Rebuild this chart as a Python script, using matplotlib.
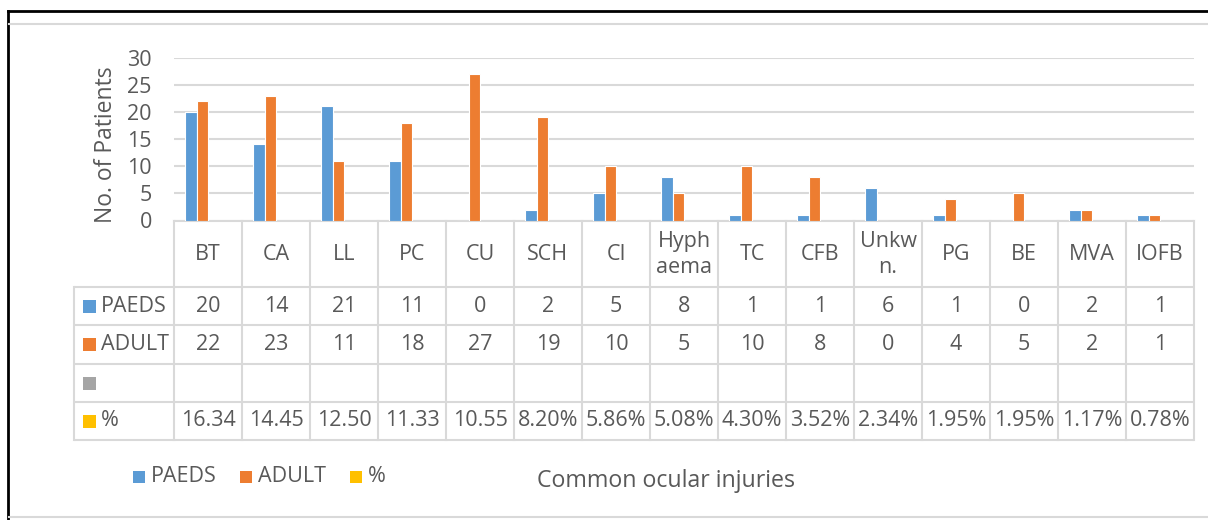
import matplotlib
matplotlib.use("Agg")
import matplotlib.pyplot as plt
from matplotlib.transforms import blended_transform_factory
from matplotlib.patches import Rectangle
import numpy as np

categories = ["BT", "CA", "LL", "PC", "CU", "SCH", "CI", "Hyph\naema", "TC", "CFB",
              "Unkw\nn.", "PG", "BE", "MVA", "IOFB"]
paeds = [20, 14, 21, 11, 0, 2, 5, 8, 1, 1, 6, 1, 0, 2, 1]
adult = [22, 23, 11, 18, 27, 19, 10, 5, 10, 8, 0, 4, 5, 2, 1]
pct_labels = ["16.34", "14.45", "12.50", "11.33", "10.55", "8.20%", "5.86%", "5.08%",
              "4.30%", "3.52%", "2.34%", "1.95%", "1.95%", "1.17%", "0.78%"]
yticks = [0, 5, 10, 15, 20, 25, 30]

BLUE, ORANGE, GRAY, YELLOW = "#5B9BD5", "#ED7D31", "#A5A5A5", "#FFC000"
TXT = "#595959"
GRID = "#D9D9D9"
FONT = "Open Sans"
plt.rcParams["font.family"] = [FONT, "DejaVu Sans"]

W, H = 1208, 520
fig = plt.figure(figsize=(W / 100, H / 100), dpi=100)
ov = fig.add_axes([0, 0, 1, 1])
ov.set_xlim(0, W)
ov.set_ylim(H, 0)
ov.axis("off")

AX_L, AX_R, AX_T, AX_B = 174, 1194, 57.5, 220.5
ax = fig.add_axes([AX_L / W, (H - AX_B) / H, (AX_R - AX_L) / W, (AX_B - AX_T) / H])
ax.patch.set_alpha(0)

n = len(categories)
x = np.arange(n)
slot = 0.169
ax.bar(x - 1.5 * slot, paeds, width=slot, color=BLUE, edgecolor="white", linewidth=0.8, zorder=3)
ax.bar(x - 0.5 * slot, adult, width=slot, color=ORANGE, edgecolor="white", linewidth=0.8, zorder=3)

ax.set_xlim(-0.5, n - 0.5)
ax.set_ylim(0, 30)
ax.set_yticks(yticks)
ax.set_xticks([])
ax.yaxis.grid(True, color=GRID, linewidth=1.5)
ax.set_axisbelow(True)
for s in ["top", "right", "left"]:
    ax.spines[s].set_visible(False)
ax.spines["bottom"].set_color(GRID)
ax.spines["bottom"].set_linewidth(1.5)
ax.tick_params(axis="y", length=0, pad=16, labelsize=15.5, labelcolor=TXT)
ax.set_ylabel("No. of Patients", fontsize=16.5, color=TXT, va="center")
ax.yaxis.set_label_coords((106 - AX_L) / (AX_R - AX_L), (AX_B - 145) / (AX_B - AX_T))

# data table
tr = blended_transform_factory(ax.transData, ov.transData)
rows_y = [220.5, 287, 325, 364, 402, 440]
TAB_L = 74
lw = 1.5
for yy in rows_y[1:]:
    ov.plot([TAB_L, AX_R], [yy, yy], color=GRID, lw=lw, solid_capstyle="butt")
for b in np.arange(n + 1) - 0.5:
    ax.plot([b, b], [rows_y[0], rows_y[-1]], color=GRID, lw=lw, transform=tr, clip_on=False)
ov.plot([TAB_L, TAB_L], [rows_y[1], rows_y[-1]], color=GRID, lw=lw)

fs = 15.5
hc = (rows_y[0] + rows_y[1]) / 2 + 1
for i, c in enumerate(categories):
    ax.text(i, hc, c, transform=tr, ha="center", va="center", fontsize=fs, color=TXT,
            linespacing=1.3, clip_on=False)

row_series = [("PAEDS", BLUE, [str(v) for v in paeds]),
              ("ADULT", ORANGE, [str(v) for v in adult]),
              ("", GRAY, [""] * n),
              ("%", YELLOW, pct_labels)]
for r, (name, col, vals) in enumerate(row_series):
    yc = (rows_y[r + 1] + rows_y[r + 2]) / 2
    ov.add_patch(Rectangle((83, yc - 6.5), 13, 13, color=col, lw=0))
    ov.text(101, yc, name, ha="left", va="center", fontsize=fs, color=TXT)
    for i, v in enumerate(vals):
        ax.text(i, yc, v, transform=tr, ha="center", va="center", fontsize=fs, color=TXT,
                clip_on=False)

# legend
leg_y = 477
for lx, name, col in [(133, "PAEDS", BLUE), (240, "ADULT", ORANGE), (350, "%", YELLOW)]:
    ov.add_patch(Rectangle((lx, leg_y - 6), 12, 12, color=col, lw=0))
    ov.text(lx + 18, leg_y, name, ha="left", va="center", fontsize=fs, color=TXT)

ov.text(666, 481, "Common ocular injuries", ha="center", va="center", fontsize=16.7, color=TXT)

# frames
ov.plot([8, W], [11, 11], color="black", lw=2)
ov.plot([8, 8], [11, H], color="black", lw=2)
ov.plot([9, W], [24, 24], color=GRID, lw=1.5)
ov.plot([9, W], [517, 517], color=GRID, lw=1.5)

fig.savefig("out.png", dpi=100)
